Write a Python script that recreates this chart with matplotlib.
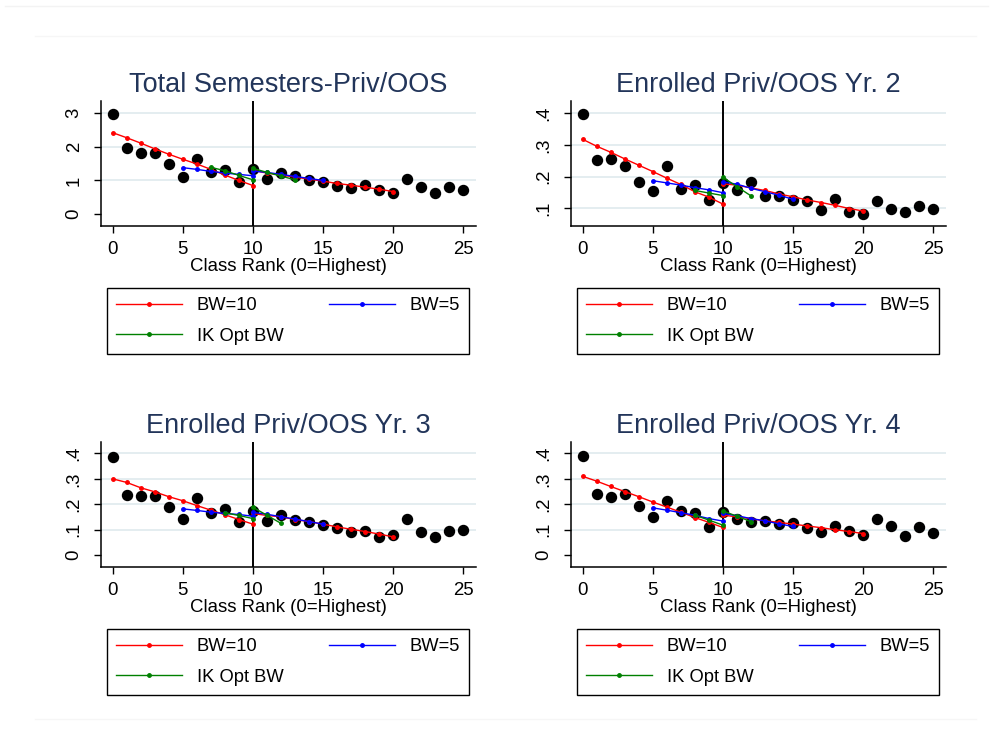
import matplotlib
matplotlib.use('Agg')
import matplotlib.pyplot as plt
from matplotlib.lines import Line2D

plt.rcParams['font.family'] = ['Liberation Sans', 'DejaVu Sans']

ranks = list(range(26))

titles = ['Total Semesters-Priv/OOS', 'Enrolled Priv/OOS Yr. 2',
          'Enrolled Priv/OOS Yr. 3', 'Enrolled Priv/OOS Yr. 4']

# binned means by class rank
means_sem = [2.98, 1.96, 1.81, 1.81, 1.50, 1.10, 1.64, 1.24, 1.30, 0.95, 1.34, 1.04, 1.22,
             1.14, 1.02, 0.94, 0.84, 0.77, 0.88, 0.72, 0.62, 1.04, 0.80, 0.62, 0.80, 0.73]
means_yr2 = [0.398, 0.251, 0.257, 0.234, 0.183, 0.153, 0.232, 0.160, 0.174, 0.126, 0.179, 0.156, 0.183,
             0.139, 0.137, 0.126, 0.122, 0.095, 0.128, 0.089, 0.082, 0.123, 0.097, 0.089, 0.108, 0.097]
means_yr3 = [0.384, 0.237, 0.232, 0.232, 0.190, 0.144, 0.224, 0.164, 0.182, 0.132, 0.174, 0.135, 0.156,
             0.140, 0.131, 0.119, 0.105, 0.092, 0.097, 0.072, 0.081, 0.143, 0.092, 0.070, 0.094, 0.098]
means_yr4 = [0.390, 0.239, 0.230, 0.239, 0.195, 0.151, 0.214, 0.172, 0.164, 0.110, 0.169, 0.142, 0.132,
             0.135, 0.122, 0.127, 0.108, 0.093, 0.114, 0.094, 0.079, 0.143, 0.115, 0.075, 0.111, 0.089]

# BW=10 fits (x 0..10 and 10..20)
bw10_x_left = list(range(0, 11))
bw10_x_right = list(range(10, 21))
bw10_sem = ([2.42, 2.27, 2.11, 1.94, 1.78, 1.63, 1.49, 1.33, 1.16, 1.00, 0.85],
            [1.30, 1.22, 1.16, 1.10, 1.04, 0.98, 0.91, 0.86, 0.80, 0.74, 0.67])
bw10_yr2 = ([0.318, 0.296, 0.277, 0.256, 0.236, 0.216, 0.195, 0.175, 0.152, 0.135, 0.113],
            [0.177, 0.173, 0.164, 0.156, 0.145, 0.136, 0.126, 0.118, 0.109, 0.099, 0.091])
bw10_yr3 = ([0.300, 0.286, 0.265, 0.249, 0.230, 0.214, 0.195, 0.177, 0.159, 0.140, 0.122],
            [0.164, 0.156, 0.151, 0.140, 0.132, 0.122, 0.111, 0.102, 0.093, 0.083, 0.072])
bw10_yr4 = ([0.310, 0.291, 0.270, 0.250, 0.230, 0.209, 0.189, 0.169, 0.148, 0.129, 0.109],
            [0.157, 0.151, 0.143, 0.135, 0.129, 0.122, 0.115, 0.108, 0.100, 0.093, 0.085])

# BW=5 fits (x 5..10 and 10..15)
bw5_x_left = list(range(5, 11))
bw5_x_right = list(range(10, 16))
bw5_sem = ([1.38, 1.33, 1.27, 1.22, 1.18, 1.14], [1.28, 1.24, 1.18, 1.12, 1.06, 1.00])
bw5_yr2 = ([0.187, 0.180, 0.173, 0.165, 0.158, 0.149], [0.183, 0.176, 0.163, 0.152, 0.141, 0.128])
bw5_yr3 = ([0.182, 0.176, 0.169, 0.164, 0.160, 0.153], [0.168, 0.161, 0.151, 0.142, 0.132, 0.122])
bw5_yr4 = ([0.186, 0.177, 0.167, 0.157, 0.144, 0.134], [0.164, 0.155, 0.144, 0.135, 0.123, 0.113])

# IK optimal bandwidth fits
ik_sem = (list(range(7, 11)), [1.39, 1.29, 1.15, 1.02], list(range(10, 14)), [1.36, 1.24, 1.13, 1.02])
ik_yr2 = (list(range(8, 11)), [0.156, 0.148, 0.140], list(range(10, 13)), [0.198, 0.168, 0.139])
ik_yr3 = (list(range(8, 11)), [0.167, 0.156, 0.144], list(range(10, 13)), [0.188, 0.157, 0.125])
ik_yr4 = (list(range(8, 11)), [0.157, 0.138, 0.118], list(range(10, 13)), [0.174, 0.153, 0.132])

yticks = [[0, 1, 2, 3], [.1, .2, .3, .4], [0, .1, .2, .3, .4], [0, .1, .2, .3, .4]]
yticklabels = [['0', '1', '2', '3'], ['.1', '.2', '.3', '.4'],
               ['0', '.1', '.2', '.3', '.4'], ['0', '.1', '.2', '.3', '.4']]
ylims = [(-0.35, 3.37), (0.044, 0.44), (-0.046, 0.446), (-0.046, 0.446)]

panels = [
    (means_sem, bw10_sem, bw5_sem, ik_sem),
    (means_yr2, bw10_yr2, bw5_yr2, ik_yr2),
    (means_yr3, bw10_yr3, bw5_yr3, ik_yr3),
    (means_yr4, bw10_yr4, bw5_yr4, ik_yr4),
]

RED, BLUE, GREEN = '#ff0000', '#0000ff', '#008000'
TITLE_COLOR = '#22355a'
GRID_COLOR = '#e4edf0'
FS = 13.4


def main():
    W, H = 993, 730
    fig = plt.figure(figsize=(W / 100, H / 100), dpi=100)
    fig.patch.set_facecolor('white')

    # faint outer frame lines
    fig.add_artist(Line2D([0.005, 0.995], [1 - 6 / H, 1 - 6 / H], color='#f3f3f3', lw=1))
    fig.add_artist(Line2D([35 / W, 976 / W], [1 - 36 / H, 1 - 36 / H], color='#f6f6f6', lw=1))
    fig.add_artist(Line2D([35 / W, 976 / W], [1 - 719 / H, 1 - 719 / H], color='#f6f6f6', lw=1))

    lefts = [100.7, 570.7, 100.7, 570.7]
    tops = [100.7, 100.7, 441.7, 441.7]
    ax_w, ax_h = 375.3, 125.2

    for i, (means, bw10, bw5, ik) in enumerate(panels):
        l, t = lefts[i], tops[i]
        ax = fig.add_axes([l / W, 1 - (t + ax_h) / H, ax_w / W, ax_h / H])
        ax.set_xlim(-0.85, 25.9)
        ax.set_ylim(*ylims[i])
        for yt in yticks[i]:
            if yt != 0:
                ax.axhline(yt, color=GRID_COLOR, lw=1.4, zorder=0)

        ax.plot(ranks, means, 'o', color='black', markersize=7.2, zorder=2)
        ax.axvline(10, color='black', lw=1.4, zorder=3)

        ax.plot(bw10_x_left, bw10[0], '-o', color=RED, lw=1, markersize=2.5, zorder=4)
        ax.plot(bw10_x_right, bw10[1], '-o', color=RED, lw=1, markersize=2.5, zorder=4)
        ax.plot(bw5_x_left, bw5[0], '-o', color=BLUE, lw=1, markersize=2.5, zorder=4)
        ax.plot(bw5_x_right, bw5[1], '-o', color=BLUE, lw=1, markersize=2.5, zorder=4)
        ax.plot(ik[0], ik[1], '-o', color=GREEN, lw=1, markersize=2.5, zorder=4)
        ax.plot(ik[2], ik[3], '-o', color=GREEN, lw=1, markersize=2.5, zorder=4)

        for s in ['top', 'right']:
            ax.spines[s].set_visible(False)
        for s in ['left', 'bottom']:
            ax.spines[s].set_linewidth(1.1)

        ax.set_xticks([0, 5, 10, 15, 20, 25])
        ax.set_yticks(yticks[i])
        ax.set_yticklabels(yticklabels[i], rotation=90, va='center')
        ax.tick_params(axis='both', direction='out', length=5, width=1, labelsize=FS)
        ax.tick_params(axis='x', pad=6)
        ax.tick_params(axis='y', pad=8)
        ax.set_xlabel('Class Rank (0=Highest)', fontsize=FS, labelpad=0)
        ax.set_title(titles[i], fontsize=19.5, color=TITLE_COLOR, pad=6)

        handles = [
            Line2D([], [], color=RED, lw=1, marker='o', markersize=2.5),
            Line2D([], [], color=GREEN, lw=1, marker='o', markersize=2.5),
            Line2D([], [], color=BLUE, lw=1, marker='o', markersize=2.5),
        ]
        labels = ['BW=10', 'IK Opt BW', 'BW=5']
        lx0 = (l + 6) / W
        lx1 = (l + 368.3) / W
        ltop = 1 - (t + ax_h + 62.3) / H
        leg = fig.legend(handles, labels, ncol=2, loc='upper left',
                         bbox_to_anchor=(lx0, ltop - 0.1, lx1 - lx0, 0.1),
                         mode='expand', fontsize=13.2, numpoints=1,
                         handlelength=3.6, handletextpad=0.8, borderpad=0.5,
                         labelspacing=0.72, borderaxespad=0, frameon=True,
                         fancybox=False, edgecolor='black', framealpha=1)
        leg.get_frame().set_linewidth(1.0)

    fig.savefig('out.png', dpi=100, facecolor='white')


if __name__ == '__main__':
    main()
